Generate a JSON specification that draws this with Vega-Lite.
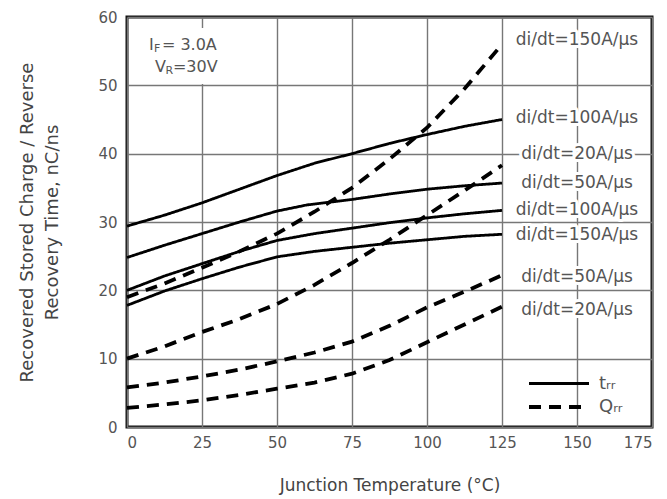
{
  "$schema": "https://vega.github.io/schema/vega-lite/v6.json",
  "width": 525,
  "height": 410,
  "autosize": {"type": "none"},
  "padding": {"left": 127, "top": 17, "right": 15, "bottom": 72},
  "background": "white",
  "config": {
    "font": "DejaVu Sans",
    "view": {"stroke": "#111", "strokeWidth": 3},
    "axis": {
      "grid": true, "gridColor": "#777", "gridWidth": 1.4,
      "ticks": false, "domain": false,
      "labelFontSize": 15, "labelColor": "#555",
      "titleFontSize": 17, "titleFontWeight": "normal", "titleColor": "#444"
    }
  },
  "datasets": {
    "curves": [
      {"curve": "A", "type": "trr", "t": 0, "v": 29.4}, {"curve": "A", "type": "trr", "t": 12.5, "v": 31.0}, {"curve": "A", "type": "trr", "t": 25, "v": 32.8}, {"curve": "A", "type": "trr", "t": 37.5, "v": 34.8}, {"curve": "A", "type": "trr", "t": 50, "v": 36.8}, {"curve": "A", "type": "trr", "t": 62.5, "v": 38.6}, {"curve": "A", "type": "trr", "t": 75, "v": 40.0}, {"curve": "A", "type": "trr", "t": 87.5, "v": 41.5}, {"curve": "A", "type": "trr", "t": 100, "v": 42.8}, {"curve": "A", "type": "trr", "t": 112.5, "v": 44.0}, {"curve": "A", "type": "trr", "t": 125, "v": 45.0},
      {"curve": "B", "type": "trr", "t": 0, "v": 24.8}, {"curve": "B", "type": "trr", "t": 12.5, "v": 26.6}, {"curve": "B", "type": "trr", "t": 25, "v": 28.3}, {"curve": "B", "type": "trr", "t": 37.5, "v": 30.0}, {"curve": "B", "type": "trr", "t": 50, "v": 31.6}, {"curve": "B", "type": "trr", "t": 60, "v": 32.5}, {"curve": "B", "type": "trr", "t": 75, "v": 33.3}, {"curve": "B", "type": "trr", "t": 87.5, "v": 34.1}, {"curve": "B", "type": "trr", "t": 100, "v": 34.8}, {"curve": "B", "type": "trr", "t": 112.5, "v": 35.3}, {"curve": "B", "type": "trr", "t": 125, "v": 35.7},
      {"curve": "C", "type": "trr", "t": 0, "v": 20.0}, {"curve": "C", "type": "trr", "t": 12.5, "v": 22.1}, {"curve": "C", "type": "trr", "t": 25, "v": 23.9}, {"curve": "C", "type": "trr", "t": 37.5, "v": 25.7}, {"curve": "C", "type": "trr", "t": 50, "v": 27.3}, {"curve": "C", "type": "trr", "t": 62.5, "v": 28.3}, {"curve": "C", "type": "trr", "t": 75, "v": 29.1}, {"curve": "C", "type": "trr", "t": 87.5, "v": 29.9}, {"curve": "C", "type": "trr", "t": 100, "v": 30.6}, {"curve": "C", "type": "trr", "t": 112.5, "v": 31.2}, {"curve": "C", "type": "trr", "t": 125, "v": 31.7},
      {"curve": "D", "type": "trr", "t": 0, "v": 17.8}, {"curve": "D", "type": "trr", "t": 12.5, "v": 19.9}, {"curve": "D", "type": "trr", "t": 25, "v": 21.7}, {"curve": "D", "type": "trr", "t": 37.5, "v": 23.4}, {"curve": "D", "type": "trr", "t": 50, "v": 24.9}, {"curve": "D", "type": "trr", "t": 62.5, "v": 25.7}, {"curve": "D", "type": "trr", "t": 75, "v": 26.3}, {"curve": "D", "type": "trr", "t": 87.5, "v": 26.9}, {"curve": "D", "type": "trr", "t": 100, "v": 27.4}, {"curve": "D", "type": "trr", "t": 112.5, "v": 27.9}, {"curve": "D", "type": "trr", "t": 125, "v": 28.2},
      {"curve": "E", "type": "Qrr", "t": 0, "v": 19.0}, {"curve": "E", "type": "Qrr", "t": 12.5, "v": 21.0}, {"curve": "E", "type": "Qrr", "t": 25, "v": 23.3}, {"curve": "E", "type": "Qrr", "t": 37.5, "v": 25.7}, {"curve": "E", "type": "Qrr", "t": 50, "v": 28.3}, {"curve": "E", "type": "Qrr", "t": 62.5, "v": 31.5}, {"curve": "E", "type": "Qrr", "t": 75, "v": 35.0}, {"curve": "E", "type": "Qrr", "t": 87.5, "v": 39.2}, {"curve": "E", "type": "Qrr", "t": 100, "v": 43.8}, {"curve": "E", "type": "Qrr", "t": 112.5, "v": 49.5}, {"curve": "E", "type": "Qrr", "t": 125, "v": 56.0},
      {"curve": "F", "type": "Qrr", "t": 0, "v": 10.0}, {"curve": "F", "type": "Qrr", "t": 12.5, "v": 11.8}, {"curve": "F", "type": "Qrr", "t": 25, "v": 13.9}, {"curve": "F", "type": "Qrr", "t": 37.5, "v": 15.8}, {"curve": "F", "type": "Qrr", "t": 50, "v": 18.0}, {"curve": "F", "type": "Qrr", "t": 62.5, "v": 20.8}, {"curve": "F", "type": "Qrr", "t": 75, "v": 24.0}, {"curve": "F", "type": "Qrr", "t": 87.5, "v": 27.4}, {"curve": "F", "type": "Qrr", "t": 100, "v": 31.0}, {"curve": "F", "type": "Qrr", "t": 112.5, "v": 34.6}, {"curve": "F", "type": "Qrr", "t": 125, "v": 38.3},
      {"curve": "G", "type": "Qrr", "t": 0, "v": 5.8}, {"curve": "G", "type": "Qrr", "t": 12.5, "v": 6.5}, {"curve": "G", "type": "Qrr", "t": 25, "v": 7.4}, {"curve": "G", "type": "Qrr", "t": 37.5, "v": 8.4}, {"curve": "G", "type": "Qrr", "t": 50, "v": 9.6}, {"curve": "G", "type": "Qrr", "t": 62.5, "v": 10.9}, {"curve": "G", "type": "Qrr", "t": 75, "v": 12.5}, {"curve": "G", "type": "Qrr", "t": 87.5, "v": 14.8}, {"curve": "G", "type": "Qrr", "t": 100, "v": 17.5}, {"curve": "G", "type": "Qrr", "t": 112.5, "v": 19.8}, {"curve": "G", "type": "Qrr", "t": 125, "v": 22.2},
      {"curve": "H", "type": "Qrr", "t": 0, "v": 2.8}, {"curve": "H", "type": "Qrr", "t": 12.5, "v": 3.3}, {"curve": "H", "type": "Qrr", "t": 25, "v": 3.9}, {"curve": "H", "type": "Qrr", "t": 37.5, "v": 4.7}, {"curve": "H", "type": "Qrr", "t": 50, "v": 5.6}, {"curve": "H", "type": "Qrr", "t": 62.5, "v": 6.5}, {"curve": "H", "type": "Qrr", "t": 75, "v": 7.8}, {"curve": "H", "type": "Qrr", "t": 87.5, "v": 9.8}, {"curve": "H", "type": "Qrr", "t": 100, "v": 12.4}, {"curve": "H", "type": "Qrr", "t": 112.5, "v": 15.0}, {"curve": "H", "type": "Qrr", "t": 125, "v": 17.6}
    ],
    "labels": [
      {"label": "di/dt=150A/µs", "t": 150, "v": 56.7},
      {"label": "di/dt=100A/µs", "t": 150, "v": 45.2},
      {"label": "di/dt=20A/µs", "t": 150, "v": 40.0},
      {"label": "di/dt=50A/µs", "t": 150, "v": 35.7},
      {"label": "di/dt=100A/µs", "t": 150, "v": 31.8},
      {"label": "di/dt=150A/µs", "t": 150, "v": 28.1},
      {"label": "di/dt=50A/µs", "t": 150, "v": 22.0},
      {"label": "di/dt=20A/µs", "t": 150, "v": 17.1}
    ],
    "notes": [
      {"row": 1, "t": 7.3, "v": 55.9, "main": "I", "sub": "F", "rest": "= 3.0A"},
      {"row": 2, "t": 9.3, "v": 52.7, "main": "V", "sub": "R", "rest": "=30V"}
    ]
  },
  "layer": [
    {
      "data": {"name": "curves"},
      "mark": {"type": "line", "color": "black", "strokeCap": "butt"},
      "encoding": {
        "x": {"field": "t", "type": "quantitative", "scale": {"domain": [0, 175], "nice": false},
              "axis": {"values": [0, 25, 50, 75, 100, 125, 150, 175], "labelPadding": 8, "title": "Junction Temperature (°C)", "titlePadding": 27}},
        "y": {"field": "v", "type": "quantitative", "scale": {"domain": [0, 60], "nice": false},
              "axis": {"values": [0, 10, 20, 30, 40, 50, 60], "labelPadding": 10, "title": ["Recovered Stored Charge / Reverse", "Recovery Time, nC/ns"], "titleFontSize": 18, "titleLineHeight": 25, "titlePadding": 36}},
        "detail": {"field": "curve"},
        "strokeDash": {"field": "type", "type": "nominal",
          "scale": {"domain": ["trr", "Qrr"], "range": [[1, 0], [12, 8]]},
          "legend": {"orient": "none", "legendX": 420, "legendY": 355, "title": null, "padding": 0, "rowPadding": 2,
                     "symbolType": "M-3,0H3", "symbolSize": 400, "symbolStrokeWidth": 5, "symbolStrokeColor": "black",
                     "labelFontSize": 18, "labelColor": "#555", "labelOffset": 28,
                     "labelExpr": "datum.value == 'trr' ? 't\u1d63\u1d63' : 'Q\u1d63\u1d63'"}},
        "strokeWidth": {"field": "type", "type": "nominal", "scale": {"domain": ["trr", "Qrr"], "range": [2.8, 3.8]}, "legend": null}
      }
    },
    {
      "data": {"name": "labels"},
      "mark": {"type": "text", "align": "center", "baseline": "middle", "fontSize": 17, "stroke": "white", "strokeWidth": 6, "strokeJoin": "round", "fill": "white"},
      "encoding": {"x": {"field": "t", "type": "quantitative"}, "y": {"field": "v", "type": "quantitative"}, "text": {"field": "label"}}
    },
    {
      "data": {"name": "labels"},
      "mark": {"type": "text", "align": "center", "baseline": "middle", "fontSize": 17, "color": "#555"},
      "encoding": {"x": {"field": "t", "type": "quantitative"}, "y": {"field": "v", "type": "quantitative"}, "text": {"field": "label"}}
    },
    {
      "data": {"name": "notes"},
      "mark": {"type": "point", "shape": "M-4.75,-1.7H4.75V1.7H-4.75Z", "size": 400, "filled": true, "fill": "white", "stroke": null, "opacity": 1, "xOffset": 36},
      "encoding": {"x": {"field": "t", "type": "quantitative"}, "y": {"field": "v", "type": "quantitative"}}
    },
    {
      "data": {"name": "notes"},
      "transform": [{"filter": "datum.row == 1"}],
      "layer": [
        {"mark": {"type": "text", "align": "left", "baseline": "middle", "fontSize": 16, "color": "#555"},
         "encoding": {"x": {"field": "t", "type": "quantitative"}, "y": {"field": "v", "type": "quantitative"}, "text": {"field": "main"}}},
        {"mark": {"type": "text", "align": "left", "baseline": "middle", "fontSize": 11, "color": "#555", "dx": 5, "dy": 4},
         "encoding": {"x": {"field": "t", "type": "quantitative"}, "y": {"field": "v", "type": "quantitative"}, "text": {"field": "sub"}}},
        {"mark": {"type": "text", "align": "left", "baseline": "middle", "fontSize": 16, "color": "#555", "dx": 13},
         "encoding": {"x": {"field": "t", "type": "quantitative"}, "y": {"field": "v", "type": "quantitative"}, "text": {"field": "rest"}}}
      ]
    },
    {
      "data": {"name": "notes"},
      "transform": [{"filter": "datum.row == 2"}],
      "layer": [
        {"mark": {"type": "text", "align": "left", "baseline": "middle", "fontSize": 16, "color": "#555"},
         "encoding": {"x": {"field": "t", "type": "quantitative"}, "y": {"field": "v", "type": "quantitative"}, "text": {"field": "main"}}},
        {"mark": {"type": "text", "align": "left", "baseline": "middle", "fontSize": 11, "color": "#555", "dx": 10.5, "dy": 4},
         "encoding": {"x": {"field": "t", "type": "quantitative"}, "y": {"field": "v", "type": "quantitative"}, "text": {"field": "sub"}}},
        {"mark": {"type": "text", "align": "left", "baseline": "middle", "fontSize": 16, "color": "#555", "dx": 18},
         "encoding": {"x": {"field": "t", "type": "quantitative"}, "y": {"field": "v", "type": "quantitative"}, "text": {"field": "rest"}}}
      ]
    }
  ]
}
